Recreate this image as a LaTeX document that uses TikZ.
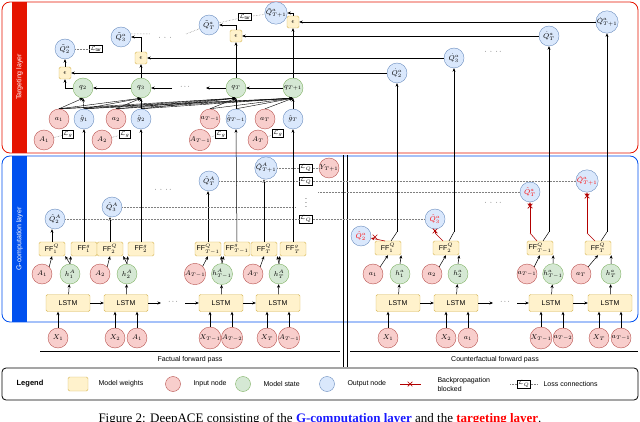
\documentclass[tikz,border=0pt]{standalone}
\usepackage{fontspec}
\setmainfont{Liberation Sans}
\newfontfamily\capfont{Liberation Serif}
\usetikzlibrary{arrows.meta,shapes.misc}
\definecolor{inD}{HTML}{B85450}\definecolor{inF}{HTML}{F8CECC}
\definecolor{stD}{HTML}{82B366}\definecolor{stF}{HTML}{D5E8D4}
\definecolor{outD}{HTML}{6C8EBF}\definecolor{outF}{HTML}{DAE8FC}
\definecolor{wtD}{HTML}{D6B656}\definecolor{wtF}{HTML}{FFF2CC}
\definecolor{tgR}{HTML}{E51400}\definecolor{gcB}{HTML}{0050EF}
\definecolor{capB}{HTML}{1A1AFF}\definecolor{bpR}{HTML}{B20000}
\begin{document}
\begin{tikzpicture}[x=1pt,y=-1pt,
 nd/.style={circle,minimum size=20pt,inner sep=0pt,font=\fontsize{7.5}{7.5}\selectfont},
 inp/.style={nd,draw=inD,fill=inF},
 snode/.style={nd,draw=stD,fill=stF},
 onode/.style={nd,draw=outD,fill=outF},
 wt/.style={draw=wtD,fill=wtF,rounded corners=1.5pt,inner sep=0pt,font=\fontsize{7}{7}\selectfont},
 lstm/.style={wt,minimum width=44pt,minimum height=17pt},
 ff/.style={wt,minimum width=26pt,minimum height=14pt},
 eps/.style={wt,minimum size=12pt},
 loss/.style={draw,fill=white,inner sep=1pt,font=\fontsize{6.5}{6.5}\selectfont},
 arr/.style={-{Stealth[length=3.5pt,width=3pt]},line width=0.5pt},
 ln/.style={line width=0.5pt},
 dl/.style={densely dotted,gray,line width=0.5pt},
 rl/.style={draw=bpR,line width=0.6pt},
 xm/.style={cross out,draw=bpR,minimum size=4pt,inner sep=0pt,line width=0.7pt},
 txt/.style={font=\fontsize{7}{8}\selectfont}]
\useasboundingbox (0,0) rectangle (640,422);
% frames
\draw[tgR,line width=0.8pt,rounded corners=8pt] (2,2) rectangle (638,153);
\fill[tgR] (12,2) rectangle (27,153);
\node[rotate=90,white,txt] (tl) at (19.5,77) {Targeting layer};
\draw[gcB,line width=0.8pt,rounded corners=8pt] (2,156) rectangle (638,322);
\fill[gcB] (12,156) rectangle (27,322);
\node[rotate=90,white,txt] (gl) at (19.5,239) {G-computation layer};
\draw[line width=0.8pt] (343,155) -- (343,367) (347,155) -- (347,367);
\draw[line width=1pt] (40,351) -- (340,351) (350,351) -- (638,351);
\node[txt] (fp) at (190,360) {Factual forward pass};
\node[txt] (cp) at (495,360) {Counterfactual forward pass};
% ===== factual
\foreach \nm/\x in {L1/68,L2/126,L3/221,L4/278}{\node[lstm] (f\nm) at (\x,303) {LSTM};}
\node[inp] (fX1) at (58,338) {$X_1$};
\node[inp] (fX2) at (115,338) {$X_2$};
\node[inp] (fB1) at (137,338) {$A_1$};
\node[inp] (fX3) at (210,338) {$X_{T-1}$};
\node[inp] (fB3) at (232,338) {$A_{T-2}$};
\node[inp] (fX4) at (267,338) {$X_T$};
\node[inp] (fB4) at (289,338) {$A_{T-1}$};
\draw[arr] (fX1)--(fX1|-fL1.south);
\draw[arr] (fX2)--(fX2|-fL2.south); \draw[arr] (fB1)--(fB1|-fL2.south);
\draw[arr] (fX3)--(fX3|-fL3.south); \draw[arr] (fB3)--(fB3|-fL3.south);
\draw[arr] (fX4)--(fX4|-fL4.south); \draw[arr] (fB4)--(fB4|-fL4.south);
\draw[arr] (fL1)--(fL2); \draw[arr] (fL3)--(fL4);
\coordinate (fd1) at (161,303); \coordinate (fd2) at (185,303);
\draw[arr] (fL2)--(fd1); \draw[arr] (fd2) -- (fL3.west);
\node[txt] (fdots) at (173,302) {$\cdots$};
\node[snode] (fh1) at (70,274) {$h^A_1$};
\node[snode] (fh2) at (127,274) {$h^A_2$};
\node[snode] (fh3) at (222,274) {$h^A_{T-1}$};
\node[snode] (fh4) at (279,274) {$h^A_T$};
\node[inp] (fA1) at (42,274) {$A_1$};
\node[inp] (fA2) at (100,274) {$A_2$};
\node[inp] (fA3) at (195,274) {$A_{T-1}$};
\node[inp] (fA4) at (253,274) {$A_T$};
\node[ff] (fQ1) at (52,249) {FF$^{Q}_{1}$};
\node[ff] (fg1) at (84,249) {FF$^{g}_{1}$};
\node[ff] (fQ2) at (110,249) {FF$^{Q}_{2}$};
\node[ff] (fg2) at (141,249) {FF$^{g}_{2}$};
\node[ff] (fQ3) at (208,249) {FF$^{Q}_{T-1}$};
\node[ff] (fg3) at (237,249) {FF$^{g}_{T-1}$};
\node[ff] (fQ4) at (264,249) {FF$^{Q}_{T}$};
\node[ff] (fg4) at (293,249) {FF$^{g}_{T}$};
\foreach \i in {1,2,3,4}{
 \draw[arr] (fL\i)--(fh\i);
 \draw[arr] (fh\i.north)--(fQ\i.south east);
 \draw[arr] (fh\i.north)--(fg\i.south west);
 \draw[arr] (fA\i.north east)--(fQ\i.south);
}
\node[onode] (fq1) at (55,219) {$\hat Q^A_2$};
\node[onode] (fq2) at (112,207) {$\hat Q^A_3$};
\node[onode] (fq3) at (209,181) {$\hat Q^A_T$};
\node[onode] (fq4) at (266,168) {$\hat Q^A_{T+1}$};
\foreach \i in {1,2,3,4}{\draw[arr] (fQ\i.north)--(fQ\i.north|-fq\i.south);}
\node[txt] (fdd) at (163,190) {$\cdot\,\cdot\,\cdot\,\cdot$};
\node[loss] (lq1) at (306,168) {$\mathcal{L}_Q$};
\node[loss] (lq2) at (306,181) {$\mathcal{L}_Q$};
\node[loss] (lq3) at (306,219) {$\mathcal{L}_Q$};
\node[inp] (fY) at (329,168) {$Y_{T+1}$};
\node[txt] (vd) at (306,200) {$\vdots$};
\draw[dl] (fq4)--(lq1) (lq1)--(fY);
\draw[dl] (fq3)--(lq2);
\draw[dl] (fq1)--(lq3);
\coordinate (fq2e) at (296,207);
\draw[dl] (fq2)--(fq2e);
% ===== counterfactual
\foreach \nm/\x in {L1/398,L2/456,L3/551,L4/610}{\node[lstm] (c\nm) at (\x,303) {LSTM};}
\node[inp] (cX1) at (388,338) {$X_1$};
\node[inp] (cX2) at (446,338) {$X_2$};
\node[inp] (cB1) at (468,338) {$a_1$};
\node[inp] (cX3) at (541,338) {$X_{T-1}$};
\node[inp] (cB3) at (563,338) {$a_{T-2}$};
\node[inp] (cX4) at (599,338) {$X_T$};
\node[inp] (cB4) at (621,338) {$a_{T-1}$};
\draw[arr] (cX1)--(cX1|-cL1.south);
\draw[arr] (cX2)--(cX2|-cL2.south); \draw[arr] (cB1)--(cB1|-cL2.south);
\draw[arr] (cX3)--(cX3|-cL3.south); \draw[arr] (cB3)--(cB3|-cL3.south);
\draw[arr] (cX4)--(cX4|-cL4.south); \draw[arr] (cB4)--(cB4|-cL4.south);
\draw[arr] (cL1)--(cL2); \draw[arr] (cL3)--(cL4);
\coordinate (cd1) at (493,303); \coordinate (cd2) at (517,303);
\draw[arr] (cL2)--(cd1); \draw[arr] (cd2) -- (cL3.west);
\node[txt] (cdots) at (505,302) {$\cdots$};
\node[snode] (ch1) at (400,274) {$h^a_1$};
\node[snode] (ch2) at (458,274) {$h^a_2$};
\node[snode] (ch3) at (553,274) {$h^a_{T-1}$};
\node[snode] (ch4) at (611,274) {$h^a_T$};
\node[inp] (cA1) at (373,274) {$a_1$};
\node[inp] (cA2) at (432,274) {$a_2$};
\node[inp] (cA3) at (527,274) {$a_{T-1}$};
\node[inp] (cA4) at (581,274) {$a_T$};
\node[ff] (cQ1) at (388,248) {FF$^{Q}_{1}$};
\node[ff] (cQ2) at (446,248) {FF$^{Q}_{2}$};
\node[ff] (cQ3) at (540,248) {FF$^{Q}_{T-1}$};
\node[ff] (cQ4) at (598,248) {FF$^{Q}_{T}$};
\foreach \i in {1,2,3,4}{
 \draw[arr] (cL\i)--(ch\i);
 \draw[arr] (ch\i.north)--(cQ\i.south east);
 \draw[arr] (cA\i.north east)--(cQ\i.south);
}
\node[onode,text=red] (cq1) at (361,236) {$\hat Q^a_2$};
\node[onode,text=red] (cq2) at (435,219) {$\hat Q^a_3$};
\node[onode,text=red] (cq3) at (530,192) {$\hat Q^a_T$};
\node[onode,text=red] (cq4) at (587,181) {$\hat Q^a_{T+1}$};
\node[txt] (cdd) at (493,203) {$\cdot\,\cdot\,\cdot\,\cdot$};
\coordinate (cdl) at (318,192);
\draw[dl] (lq2)--(cq4);
\draw[dl] (cdl)--(cq3);
\draw[dl] (lq3)--(cq2);
% red blocked lines
\draw[rl,-{Stealth[length=3.5pt,width=3pt]}] (385,241)--(cq1);
\node[xm] (x1) at (375,237) {};
\draw[rl] (443,241)--(435,233); \draw[rl,-{Stealth[length=3.5pt,width=3pt]}] (435,233)--(cq2);
\node[xm] (x2) at (435,231) {};
\draw[rl] (537,241)--(530,233); \draw[rl,-{Stealth[length=3.5pt,width=3pt]}] (530,233)--(cq3);
\node[xm] (x3) at (530,206) {};
\draw[rl] (595,241)--(587,233); \draw[rl,-{Stealth[length=3.5pt,width=3pt]}] (587,233)--(cq4);
\node[xm] (x4) at (587,196) {};
% ===== targeting layer
\node[onode] (qs1) at (397,73) {$\dot Q^a_2$};
\node[onode] (qs2) at (454,58) {$\dot Q^a_3$};
\node[onode] (qs3) at (549,36) {$\dot Q^a_T$};
\node[onode] (qs4) at (607,22) {$\dot Q^a_{T+1}$};
\node[txt] (tdd) at (493,52) {$\cdot\,\cdot\,\cdot\,\cdot$};
\draw[ln] (391,241)--(397,232); \draw[arr] (397,232)--(qs1);
\draw[ln] (449,241)--(454,232); \draw[arr] (454,232)--(qs2);
\draw[ln] (543,241)--(549,232); \draw[arr] (549,232)--(qs3);
\draw[ln] (601,241)--(607,232); \draw[arr] (607,232)--(qs4);
\node[eps] (e1) at (65,73) {$\epsilon$};
\node[eps] (e2) at (141,58) {$\epsilon$};
\node[eps] (e3) at (236,36) {$\epsilon$};
\node[eps] (e4) at (293,22) {$\epsilon$};
\draw[arr] (qs1)--(e1); \draw[arr] (qs2)--(e2); \draw[arr] (qs3)--(e3); \draw[arr] (qs4)--(e4);
\node[onode] (qt1) at (65,49) {$\tilde Q^a_2$};
\node[onode] (qt2) at (121,37) {$\tilde Q^a_3$};
\node[onode] (qt3) at (209,25) {$\tilde Q^a_T$};
\node[onode] (qt4) at (276,13) {$\tilde Q^a_{T+1}$};
\draw[arr] (e1)--(qt1);
\draw[arr] (e2.north) |- (qt2.east);
\draw[arr] (e3.north) |- (qt3.east);
\draw[arr] (e4.north) |- (qt4.east);
\node[loss] (lt1) at (96,49) {$\mathcal{L}_{\mathrm{tar}}$};
\node[loss] (lt2) at (245,17) {$\mathcal{L}_{\mathrm{tar}}$};
\coordinate (t1a) at (131,34); \coordinate (t1b) at (150,34); \coordinate (t2a) at (186,34);
\draw[dl] (qt1)--(lt1);
\draw[dl] (t1a)--(t1b) (t2a)--(qt3);
\draw[dl] (qt3)--(lt2) (lt2)--(qt4);
\node[txt] (tld) at (165,38) {$\cdot\,\cdot\,\cdot$};
\node[snode] (q2) at (83,88) {$q_2$};
\node[snode] (q3) at (141,88) {$q_3$};
\node[snode] (q4) at (236,88) {$q_T$};
\node[snode] (q5) at (293,88) {$q_{T+1}$};
\node[txt] (qd) at (185,87) {$\cdots$};
\coordinate (qa) at (206,88); \coordinate (qb) at (172,88);
\draw[arr] (q5)--(q4); \draw[arr] (q4)--(qa); \draw[arr] (qb)--(q3); \draw[arr] (q3)--(q2);
\draw[arr] (q2.west) -| (e1.south);
\draw[arr] (q3)--(e2); \draw[arr] (q4)--(e3); \draw[arr] (q5)--(e4);
\node[inp] (ta1) at (59,119) {$a_1$};
\node[inp] (ta2) at (116,119) {$a_2$};
\node[inp] (ta3) at (210,119) {$a_{T-1}$};
\node[inp] (ta4) at (265,119) {$a_T$};
\node[onode] (tg1) at (84,119) {$\hat g_1$};
\node[onode] (tg2) at (141,119) {$\hat g_2$};
\node[onode] (tg3) at (236,119) {$\hat g_{T-1}$};
\node[onode] (tg4) at (293,119) {$\hat g_T$};
\foreach \i in {1,2,3,4}{\draw[arr] (fg\i.north)--(tg\i.south);}
\node[inp] (tA1) at (44,140) {$A_1$};
\node[inp] (tA2) at (102,140) {$A_2$};
\node[inp] (tA3) at (200,140) {$A_{T-1}$};
\node[inp] (tA4) at (258,140) {$A_T$};
\node[loss] (lg1) at (68,134) {$\mathcal{L}_g$};
\node[loss] (lg2) at (125,134) {$\mathcal{L}_g$};
\node[loss] (lg3) at (221,134) {$\mathcal{L}_g$};
\node[loss] (lg4) at (278,133) {$\mathcal{L}_g$};
\foreach \i in {1,2,3,4}{\draw[dl] (tA\i)--(lg\i);}
\foreach \s/\tl in {2/{1},3/{1,2},4/{1,2,3},5/{1,2,3,4}}{
 \foreach \t in \tl {
  \draw[arr,line width=0.4pt] (ta\t.north)--(q\s.south);
  \draw[arr,line width=0.4pt] (tg\t.north)--(q\s.south);
 }
}
% ===== legend
\draw[line width=0.8pt,rounded corners=4pt] (2,368) rectangle (638,400);
\node[font=\bfseries\fontsize{7.5}{8}\selectfont] (lgT) at (30,384) {Legend};
\node[wt,minimum width=20pt,minimum height=14pt] (lw) at (78,384) {};
\node[txt,anchor=west] (lwt) at (95,384) {Model weights};
\node[inp,minimum size=15pt] (li) at (173,384) {};
\node[txt,anchor=west] (lit) at (190,384) {Input node};
\node[snode,minimum size=15pt] (ls) at (243,384) {};
\node[txt,anchor=west] (lst) at (260,384) {Model state};
\node[onode,minimum size=15pt] (lo) at (327,384) {};
\node[txt,anchor=west] (lot) at (344,384) {Output node};
\coordinate (lb1) at (400,384); \coordinate (lb2) at (421,384);
\draw[rl] (lb1)--(lb2); \node[xm] (lbx) at (410,384) {};
\node[txt,anchor=west,align=left] (lbt) at (434,384) {Backpropagation\\[1pt]blocked};
\node[loss] (ll) at (524,384) {$\mathcal{L}_Q$};
\coordinate (ll1) at (510,384); \coordinate (ll2) at (538,384);
\draw[dl] (ll1)--(ll) (ll)--(ll2);
\node[txt,anchor=west] (llt) at (540,384) {Loss connections};
\node[font=\capfont\fontsize{13}{14}\selectfont] (cap) at (320,419) {Figure 2: DeepACE consisting of the \textcolor{capB}{\bfseries G-computation layer} and the \textcolor{red}{\bfseries targeting layer}.};
\end{tikzpicture}
\end{document}
